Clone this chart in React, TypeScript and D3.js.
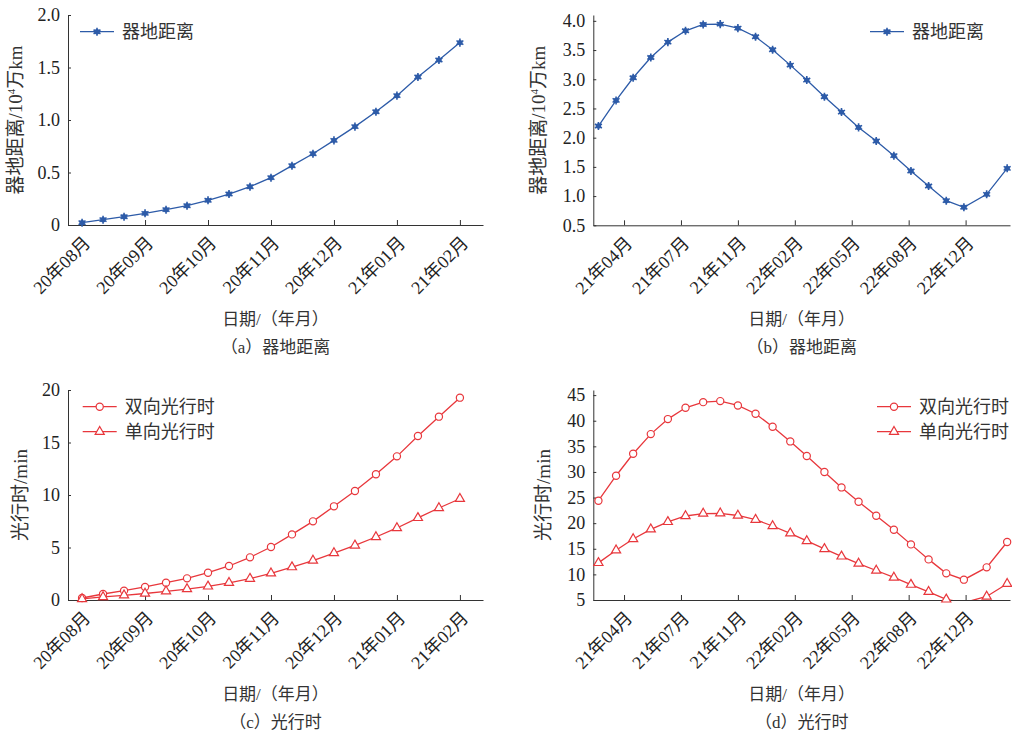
import { useEffect, useRef } from 'react'
import * as d3 from 'd3'

// (a)/(c) points every ~10 days, Aug 2020 - Feb 2021
const stepA = d3.range(19)
const tickStepA = [0, 3, 6, 9, 12, 15, 18]
const tickLabelA = ['20年08月', '20年09月', '20年10月', '20年11月', '20年12月', '21年01月', '21年02月']
const distA = [0.022, 0.051, 0.079, 0.111, 0.146, 0.184, 0.235, 0.295, 0.365, 0.451, 0.565, 0.679, 0.806, 0.937, 1.079, 1.232, 1.410, 1.571, 1.737]
const twoWayC = [0.19, 0.57, 0.89, 1.24, 1.65, 2.06, 2.60, 3.24, 4.06, 5.05, 6.25, 7.49, 8.92, 10.38, 11.97, 13.68, 15.62, 17.46, 19.27]
const oneWayC = [0.10, 0.29, 0.45, 0.62, 0.83, 1.04, 1.30, 1.64, 2.03, 2.54, 3.13, 3.76, 4.47, 5.20, 6.00, 6.86, 7.82, 8.76, 9.64]

// (b)/(d) roughly monthly points, days counted from the first labelled tick
const dayB = [-45, -14, 16, 47, 77, 108, 139, 169, 200, 231, 261, 292, 321, 352, 382, 412, 443, 474, 504, 535, 566, 597, 637, 673]
const tickDayB = [0, 100, 200, 300, 400, 500, 600]
const tickLabelB = ['21年04月', '21年07月', '21年11月', '22年02月', '22年05月', '22年08月', '22年12月']
const distB = [2.199, 2.638, 3.026, 3.373, 3.636, 3.830, 3.938, 3.944, 3.875, 3.727, 3.505, 3.242, 2.986, 2.701, 2.438, 2.176, 1.942, 1.692, 1.429, 1.173, 0.922, 0.808, 1.030, 1.475]
const twoWayD = [24.38, 29.26, 33.55, 37.39, 40.32, 42.53, 43.63, 43.83, 42.98, 41.36, 38.82, 35.96, 33.10, 29.98, 26.98, 24.19, 21.46, 18.72, 15.86, 12.93, 10.20, 8.97, 11.37, 16.32]
const oneWayD = [12.25, 14.70, 16.90, 18.80, 20.25, 21.40, 21.88, 21.92, 21.50, 20.68, 19.45, 18.02, 16.53, 14.97, 13.52, 12.12, 10.76, 9.40, 8.00, 6.60, 5.12, 4.49, 5.69, 8.16]

const BLUE = '#2d5ba8'
const RED = '#e8373c'
const INK = '#222'
const FONT = "'Liberation Serif', 'Noto Sans CJK SC', serif"

function drawMarker(sel, type, color) {
  if (type === 'star') {
    sel.append('path')
      .attr('d', d3.symbol(d3.symbolAsterisk, 45)())
      .attr('fill', 'none')
      .attr('stroke', color)
      .attr('stroke-width', 1.6)
    sel.append('circle').attr('r', 2.7).attr('fill', color)
  } else if (type === 'circle') {
    sel.append('circle')
      .attr('r', 3.6)
      .attr('fill', 'white')
      .attr('stroke', color)
      .attr('stroke-width', 1.2)
  } else {
    sel.append('path')
      .attr('d', d3.symbol(d3.symbolTriangle, 36)())
      .attr('fill', 'white')
      .attr('stroke', color)
      .attr('stroke-width', 1.2)
  }
}

function drawPanel(svg, p) {
  const x = d3.scaleLinear().domain(p.xDomain).range(p.xRange)
  const y = d3.scaleLinear().domain(p.yDomain).range(p.yRange)
  const [x0, x1] = p.xRange
  const [yb, yt] = p.yRange
  const g = svg.append('g')

  g.append('clipPath').attr('id', 'clip-' + p.id)
    .append('rect')
    .attr('x', x0).attr('y', yt)
    .attr('width', x1 - x0).attr('height', yb - yt)

  // axes
  const yAxis = g.append('g')
    .attr('transform', `translate(${x0},0)`)
    .call(d3.axisLeft(y).tickValues(p.yTicks).tickFormat(p.yFmt).tickSize(-3).tickSizeOuter(0).tickPadding(8))
  const xAxis = g.append('g')
    .attr('transform', `translate(0,${yb})`)
    .call(d3.axisBottom(x).tickValues(p.xTicks).tickFormat((d, i) => p.xLabels[i]).tickSize(-5).tickSizeOuter(0))
  xAxis.selectAll('.tick text')
    .attr('y', 0).attr('dy', 0)
    .attr('text-anchor', 'end')
    .attr('transform', 'translate(9,19) rotate(-45)')
  for (const ax of [yAxis, xAxis]) {
    ax.attr('font-family', FONT).attr('font-size', 18).attr('color', INK)
    ax.selectAll('path, line').attr('stroke', '#333').attr('stroke-width', 1)
  }

  // series
  p.series.forEach(s => {
    const pts = p.xs.map((d, i) => [d, s.values[i]])
    g.append('path')
      .attr('clip-path', `url(#clip-${p.id})`)
      .attr('d', d3.line().x(d => x(d[0])).y(d => y(d[1]))(pts))
      .attr('fill', 'none')
      .attr('stroke', s.color)
      .attr('stroke-width', 1.3)
    g.selectAll(null)
      .data(pts.filter(d => d[1] >= p.yDomain[0]))
      .enter()
      .append('g')
      .attr('transform', d => `translate(${x(d[0])},${y(d[1])})`)
      .each(function () { drawMarker(d3.select(this), s.marker, s.color) })
  })

  // legend
  p.series.forEach((s, i) => {
    const ly = p.legend[1] + i * 25
    const lg = g.append('g').attr('transform', `translate(${p.legend[0]},${ly})`)
    lg.append('line').attr('x1', 0).attr('x2', 34).attr('stroke', s.color).attr('stroke-width', 1.3)
    drawMarker(lg.append('g').attr('transform', 'translate(17,0)'), s.marker, s.color)
    lg.append('text')
      .attr('x', 42).attr('dy', '0.36em')
      .attr('font-size', 18)
      .attr('fill', '#333')
      .text(s.name)
  })

  // titles
  const cx = (x0 + x1) / 2
  const yTitle = g.append('text')
    .attr('transform', `translate(${x0 + p.yTitleDx},${(yb + yt) / 2}) rotate(-90)`)
    .attr('text-anchor', 'middle')
    .attr('dy', '0.36em')
    .attr('font-size', 19)
    .attr('fill', '#333')
  yTitle.append('tspan').text(p.yTitle[0])
  if (p.yTitle.length > 1) {
    yTitle.append('tspan').attr('font-size', 11).attr('dy', -7).text(p.yTitle[1])
    yTitle.append('tspan').attr('dy', 7).text(p.yTitle[2])
  }
  g.append('text')
    .attr('x', cx).attr('y', yb + 100)
    .attr('text-anchor', 'middle')
    .attr('font-size', 17)
    .attr('fill', '#333')
    .text('日期/（年月）')
  g.append('text')
    .attr('x', cx).attr('y', yb + 128)
    .attr('text-anchor', 'middle')
    .attr('font-size', 17)
    .attr('fill', '#333')
    .text(p.caption)
}

export default function App() {
  const ref = useRef(null)

  useEffect(() => {
    if (!ref.current) return
    const svg = d3.select(ref.current)
    svg.selectAll('*').remove()

    const panels = [
      {
        id: 'a', xs: stepA, xDomain: [-0.67, 19.1], xRange: [68, 483],
        yDomain: [0, 2], yRange: [225, 15], yTicks: [0, 0.5, 1, 1.5, 2],
        yFmt: d => (d === 0 ? '0' : d.toFixed(1)),
        xTicks: tickStepA, xLabels: tickLabelA,
        series: [{ values: distA, color: BLUE, marker: 'star', name: '器地距离' }],
        legend: [80, 31.7], yTitle: ['器地距离/10', '4', '万km'], yTitleDx: -53,
        caption: '（a）器地距离'
      },
      {
        id: 'b', xs: dayB, xDomain: [-54, 678], xRange: [593.3, 1010],
        yDomain: [0.5, 4.1], yRange: [225.3, 15], yTicks: d3.range(0.5, 4.01, 0.5),
        yFmt: d => d.toFixed(1),
        xTicks: tickDayB, xLabels: tickLabelB,
        series: [{ values: distB, color: BLUE, marker: 'star', name: '器地距离' }],
        legend: [870, 31.7], yTitle: ['器地距离/10', '4', '万km'], yTitleDx: -55,
        caption: '（b）器地距离'
      },
      {
        id: 'c', xs: stepA, xDomain: [-0.67, 19.1], xRange: [68, 483],
        yDomain: [0, 20], yRange: [600, 390], yTicks: [0, 5, 10, 15, 20],
        yFmt: d => String(d),
        xTicks: tickStepA, xLabels: tickLabelA,
        series: [
          { values: twoWayC, color: RED, marker: 'circle', name: '双向光行时' },
          { values: oneWayC, color: RED, marker: 'triangle', name: '单向光行时' }
        ],
        legend: [82.7, 406.7], yTitle: ['光行时/min'], yTitleDx: -48,
        caption: '（c）光行时'
      },
      {
        id: 'd', xs: dayB, xDomain: [-54, 678], xRange: [593.3, 1010],
        yDomain: [5, 46], yRange: [600, 390], yTicks: [5, 10, 15, 20, 25, 30, 35, 40, 45],
        yFmt: d => String(d),
        xTicks: tickDayB, xLabels: tickLabelB,
        series: [
          { values: twoWayD, color: RED, marker: 'circle', name: '双向光行时' },
          { values: oneWayD, color: RED, marker: 'triangle', name: '单向光行时' }
        ],
        legend: [877, 406.7], yTitle: ['光行时/min'], yTitleDx: -50,
        caption: '（d）光行时'
      }
    ]

    panels.forEach(p => drawPanel(svg, p))
  }, [])

  return (
    <svg
      ref={ref}
      width={1012}
      height={731}
      fontFamily={FONT}
      style={{ position: 'absolute', left: 0, top: 0, background: 'white' }}
    />
  )
}
